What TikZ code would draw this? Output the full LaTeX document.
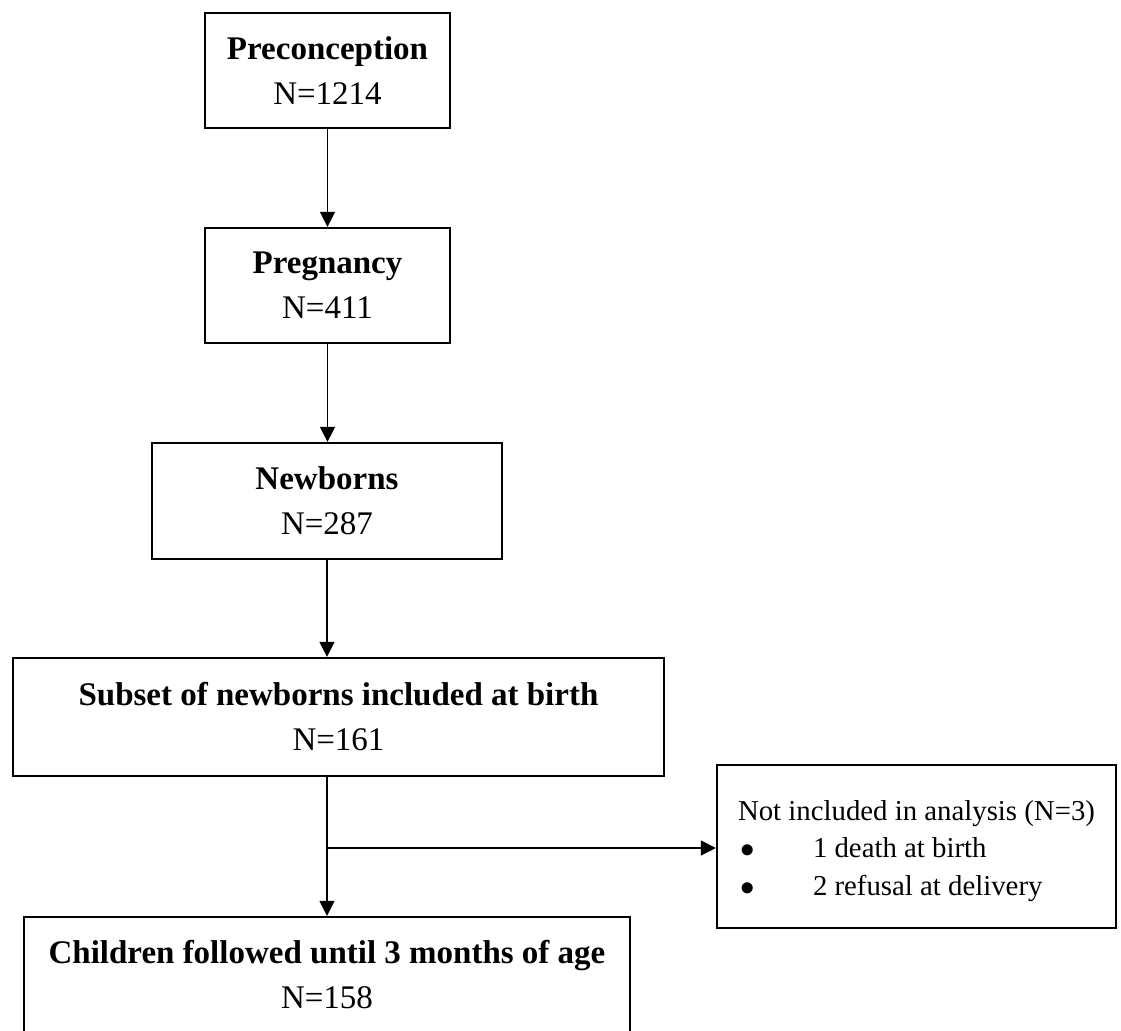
\documentclass[tikz,border=0pt]{standalone}
\usepackage{fontspec}
\setmainfont{Liberation Serif}
\usetikzlibrary{arrows.meta,positioning,calc}
\tikzset{every picture/.style={line width=0.65pt}}
\newcommand{\stagetext}[2]{\textbf{#1}\\#2}
\newcommand{\exclitem}[1]{\makebox[37.5pt][l]{\hspace{1pt}$\bullet$}#1}

\begin{document}
\begin{tikzpicture}[x=0.5pt,y=-0.5pt,
    stagebox/.style={draw,line width=1.1pt,rectangle,inner sep=0pt,align=center,
        font=\fontsize{16.5}{22.5}\selectfont},
    sidebox/.style={draw,line width=1.1pt,rectangle,inner sep=0pt,align=left,
        font=\fontsize{14.4}{18.75}\selectfont},
    flow/.style={-{Triangle[length=7.5pt,width=7.5pt]}}]
    % page frame
    \useasboundingbox (0,0) rectangle (1121,1030);

    % Stages of the cohort
    \node[stagebox,minimum width=122.5pt,minimum height=57.5pt] (precon) at (327.5,70.5)
        {\stagetext{Preconception}{N=1214}};
    \node[stagebox,minimum width=122.5pt,minimum height=57.5pt] (preg) at (327.5,285.5)
        {\stagetext{Pregnancy}{N=411}};
    \node[stagebox,minimum width=175pt,minimum height=58pt] (newb) at (327,501)
        {\stagetext{Newborns}{N=287}};
    \node[stagebox,minimum width=325.5pt,minimum height=59pt] (subset) at (338.5,717)
        {\stagetext{Subset of newborns included at birth}{N=161}};
    \node[stagebox,minimum width=303pt,minimum height=58pt] (child) at (327,975)
        {\stagetext{Children followed until 3 months of age}{N=158}};

    % Exclusions
    \node[sidebox,minimum width=199.5pt,minimum height=81.5pt] (excl) at (916.5,846.5)
        {\rule{0pt}{14.5pt}Not included in analysis (N=3)\\
         \exclitem{1 death at birth}\\
         \exclitem{2 refusal at delivery}};

    % Arrows
    \coordinate (split) at (327,848);
    \draw[flow] (precon.south) -- (preg.north);
    \draw[flow] (preg.south) -- (preg.south |- newb.north);
    \draw[flow] (newb.south) -- (newb.south |- subset.north);
    \draw[flow] (split |- subset.south) -- (split |- child.north);
    \draw[flow] (split) -- (split -| excl.west);
\end{tikzpicture}
\end{document}
